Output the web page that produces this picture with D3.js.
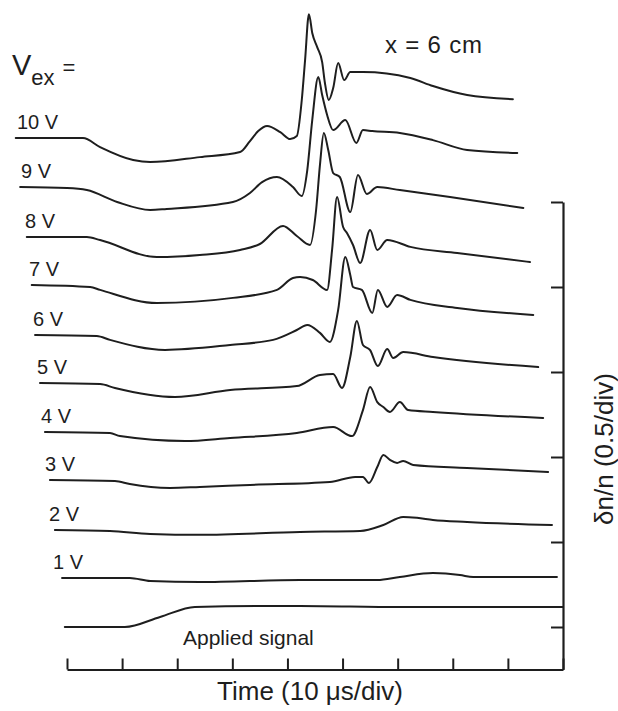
<!DOCTYPE html>
<html>
<head>
<meta charset="utf-8">
<script src="https://cdn.jsdelivr.net/npm/d3@7"></script>
<style>
  body { margin: 0; background: #fff; }
  svg { display: block; }
  text { font-family: "Liberation Sans", Arial, sans-serif; fill: #1e1e1e; }
</style>
</head>
<body>
<svg id="chart" width="618" height="711"></svg>
<script>
// Time axis ticks (μs) and density ticks (δn/n)
const timeTicks = [0, 10, 20, 30, 40, 50, 60, 70, 80, 90];
const densityTicks = [0, 0.5, 1, 1.5, 2, 2.5];

// Excitation voltages, their vertical offsets (δn/n) in the stack
const voltageLabels = ["1 V", "2 V", "3 V", "4 V", "5 V", "6 V", "7 V", "8 V", "9 V", "10 V"];
const voltageOffsets = [0.288, 0.571, 0.865, 1.147, 1.435, 1.718, 2.012, 2.294, 2.588, 2.876];
const appliedOffset = 0;

// Each record: [time μs, δn/n relative to the trace's own baseline]
const applied = [[-0.4,0],[10.5,0],[16.9,0.059],[23.2,0.118],[42.3,0.124],[60.4,0.118],[90,0.118]];
const v1 = [[-0.9,0],[11.4,0],[15.1,-0.018],[24.1,-0.024],[42.3,-0.012],[56.3,-0.012],[60.4,0.006],[66.4,0.029],[71.3,0.018],[73.7,0.006],[88.9,0.006]];
const v2 = [[-2.2,0],[7.8,-0.006],[15.1,-0.024],[24.1,-0.029],[42.3,-0.012],[53.2,-0.006],[57.4,0.029],[61.0,0.076],[63.5,0.071],[66.4,0.059],[72.6,0.047],[88.0,0.029]];
const v3 = [[-3.1,0],[8.7,-0.006],[11.4,-0.024],[18.7,-0.047],[24.1,-0.041],[33.2,-0.029],[47.7,-0.012],[52.3,0.018],[53.7,0.018],[54.8,-0.018],[56.3,0.076],[57.4,0.147],[58.6,0.118],[59.9,0.1],[61.0,0.112],[62.8,0.088],[72.6,0.071],[87.3,0.047]];
const v4 = [[-4.0,0],[7.8,-0.006],[9.6,-0.024],[21.4,-0.053],[29.6,-0.035],[41.7,-0.006],[48.3,0.029],[51.7,-0.024],[53.7,0.129],[55.0,0.265],[56.3,0.176],[57.4,0.147],[58.6,0.118],[60.4,0.176],[61.9,0.129],[66.4,0.118],[86.4,0.082]];
const v5 = [[-4.9,0],[6.0,-0.006],[8.7,-0.029],[19.6,-0.082],[29.6,-0.041],[41.7,-0.018],[45.9,0.047],[48.3,0.053],[49.9,-0.029],[51.4,0.153],[52.6,0.365],[53.7,0.224],[55.0,0.194],[56.4,0.1],[58.1,0.2],[59.2,0.147],[61.0,0.182],[66.4,0.153],[85.5,0.094]];
const v6 = [[-5.8,0],[5.4,-0.006],[7.8,-0.029],[17.8,-0.088],[29.6,-0.059],[37.4,-0.029],[41.7,0.029],[43.6,0.059],[45.9,0.012],[47.7,-0.041],[49.2,0.147],[50.5,0.459],[51.4,0.353],[51.9,0.282],[53.5,0.265],[55.4,0.129],[56.4,0.265],[58.1,0.165],[59.9,0.235],[62.3,0.206],[70.8,0.159],[84.6,0.118]];
const v7 = [[-6.4,0],[4.2,-0.012],[6.0,-0.029],[16.3,-0.106],[30.1,-0.076],[38.1,-0.029],[41.0,0.041],[42.3,0.047],[44.6,0.029],[47.2,-0.029],[48.1,0.206],[49.0,0.518],[50.1,0.341],[50.8,0.306],[51.9,0.235],[53.2,0.129],[55.0,0.324],[56.3,0.206],[58.1,0.265],[62.3,0.224],[70.8,0.188],[84.0,0.135]];
const v8 = [[-7.3,0],[3.6,0],[6.0,-0.018],[16.3,-0.118],[24.1,-0.106],[31.4,-0.076],[35.0,-0.041],[39.2,0.065],[41.7,0.006],[44.1,-0.047],[45.2,0.159],[45.9,0.424],[46.6,0.612],[47.4,0.512],[48.3,0.376],[49.5,0.353],[51.4,0.147],[52.8,0.365],[54.4,0.253],[56.3,0.294],[60.4,0.276],[69.5,0.235],[82.8,0.171]];
const v9 = [[-8.5,0],[0,-0.006],[3.6,-0.018],[9.1,-0.088],[15.1,-0.135],[18.1,-0.129],[30.1,-0.088],[33.2,-0.035],[35.4,0.029],[38.1,0.059],[41.0,0],[42.6,-0.053],[43.6,0.1],[44.5,0.394],[45.6,0.647],[46.3,0.541],[47.2,0.424],[48.3,0.335],[50.5,0.394],[52.5,0.259],[53.7,0.335],[55.4,0.329],[60.4,0.318],[66.4,0.276],[72.6,0.218],[81.7,0.2]];
const v10 = [[-9.3,0],[2.9,0],[6.0,-0.053],[12.0,-0.129],[15.1,-0.141],[24.1,-0.112],[31.4,-0.082],[33.2,-0.018],[34.7,0.041],[36.3,0.071],[38.7,0.035],[40.5,-0.006],[41.7,0.012],[42.6,0.224],[43.2,0.459],[43.9,0.729],[44.5,0.618],[45.4,0.535],[46.3,0.447],[46.8,0.324],[47.5,0.224],[48.3,0.294],[49.2,0.441],[50.3,0.341],[51.4,0.388],[53.7,0.388],[62.3,0.353],[66.4,0.306],[72.6,0.253],[80.9,0.229]];

const voltageTraces = [v1, v2, v3, v4, v5, v6, v7, v8, v9, v10];

const svg = d3.select("#chart");
const ink = "#1e1e1e";

const x = d3.scaleLinear().domain([0, 90]).range([67, 563]);
const y = d3.scaleLinear().domain([-0.25, 2.5]).range([669.5, 202]);

const line = d3.line()
  .x(d => x(d[0]))
  .y(d => y(d[1]))
  .curve(d3.curveMonotoneX);

function drawTrace(points, offset) {
  svg.append("path")
    .datum(points.map(p => [p[0], p[1] + offset]))
    .attr("d", line)
    .attr("fill", "none")
    .attr("stroke", ink)
    .attr("stroke-width", 2)
    .attr("stroke-linejoin", "round")
    .attr("stroke-linecap", "round");
}

// Bottom time axis: ticks point up into the plot, no numbers
const xAxis = svg.append("g")
  .attr("transform", `translate(0,${y(-0.25)})`)
  .call(d3.axisBottom(x).tickValues(timeTicks).tickSize(-11).tickSizeOuter(0).tickFormat(""));

// Right density axis: ticks point left, no numbers
const yAxis = svg.append("g")
  .attr("transform", `translate(${x(90)},0)`)
  .call(d3.axisRight(y).tickValues(densityTicks).tickSize(-12).tickSizeOuter(0).tickFormat(""));

[xAxis, yAxis].forEach(g => {
  g.select(".domain").attr("stroke", ink).attr("stroke-width", 2.2);
  g.selectAll(".tick line").attr("stroke", ink).attr("stroke-width", 2);
});

// Stacked traces
drawTrace(applied, appliedOffset);
voltageTraces.forEach((tr, i) => drawTrace(tr, voltageOffsets[i]));

// Trace labels: a staircase stepping left as the voltage rises
voltageTraces.forEach((tr, i) => {
  svg.append("text")
    .attr("x", 53 - i * 4)
    .attr("y", y(voltageOffsets[i]) - 9)
    .attr("font-size", 20)
    .text(voltageLabels[i]);
});

svg.append("text")
  .attr("x", 183).attr("y", 645)
  .attr("font-size", 21)
  .text("Applied signal");

// V_ex =
const vex = svg.append("text").attr("x", 12).attr("y", 75).attr("font-size", 29);
vex.append("tspan").text("V");
vex.append("tspan").attr("font-size", 22).attr("dy", 10).text("ex");
vex.append("tspan").attr("font-size", 22).attr("dy", -10).attr("dx", 8).text("=");

svg.append("text")
  .attr("x", 385).attr("y", 53)
  .attr("font-size", 24)
  .attr("letter-spacing", 0.8)
  .text("x = 6 cm");

svg.append("text")
  .attr("x", 310).attr("y", 700)
  .attr("text-anchor", "middle")
  .attr("font-size", 26)
  .text("Time (10 μs/div)");

svg.append("text")
  .attr("transform", "translate(613,449) rotate(-90)")
  .attr("text-anchor", "middle")
  .attr("font-size", 26)
  .text("δn/n (0.5/div)");
</script>
</body>
</html>
